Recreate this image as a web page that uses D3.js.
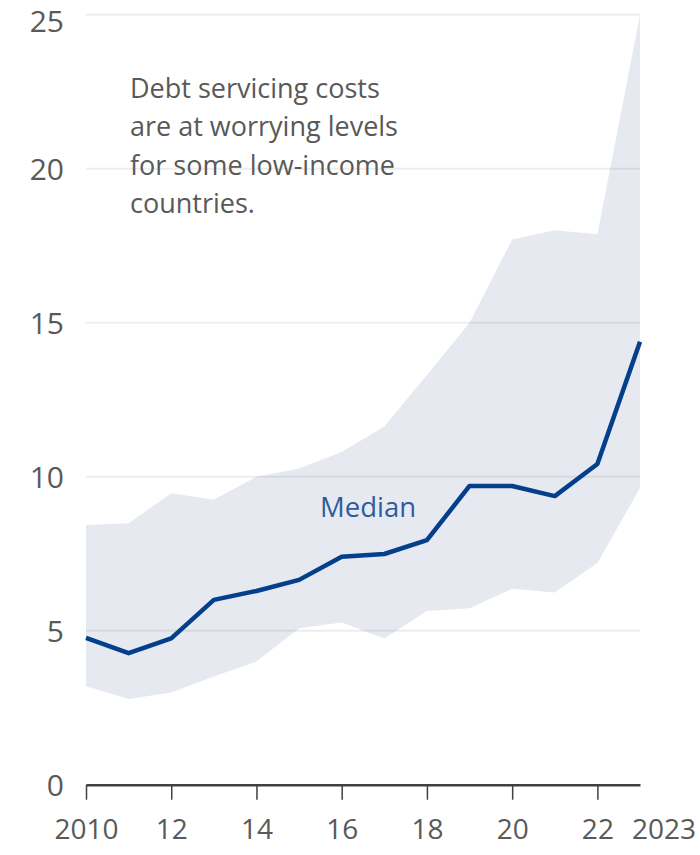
<!DOCTYPE html>
<html>
<head>
<meta charset="utf-8">
<script src="https://cdn.jsdelivr.net/npm/d3@7"></script>
<style>
  html, body { margin: 0; padding: 0; background: #ffffff; }
  svg { display: block; }
  text { font-family: "Open Sans", "Noto Sans", sans-serif; }
</style>
</head>
<body>
<div id="chart"></div>
<script>
// Debt service indicators for low-income countries, 2010–2023
const years  = [2010, 2011, 2012, 2013, 2014, 2015, 2016, 2017, 2018, 2019, 2020, 2021, 2022, 2023];
const median = [4.77, 4.27, 4.75, 6.0, 6.29, 6.65, 7.4, 7.49, 7.94, 9.7, 9.7, 9.37, 10.41, 14.38];
const upper  = [8.43, 8.49, 9.46, 9.25, 10.0, 10.27, 10.8, 11.63, 13.3, 15.0, 17.7, 18.0, 17.87, 25.0];
const lower  = [3.2, 2.78, 2.99, 3.51, 4.0, 5.08, 5.27, 4.75, 5.64, 5.73, 6.36, 6.24, 7.2, 9.63];

const yTicks = [0, 5, 10, 15, 20, 25];
const xTicks = [2010, 2012, 2014, 2016, 2018, 2020, 2022];
const xTickLabels = ["2010", "12", "14", "16", "18", "20", "22"];
const lastYearLabel = "2023";

const note = ["Debt servicing costs", "are at worrying levels", "for some low-income", "countries."];
const seriesLabel = "Median";

const W = 700, H = 855;
const svg = d3.select("#chart").append("svg").attr("width", W).attr("height", H);

const x = d3.scaleLinear().domain([2010, 2023]).range([86, 640]);
const y = d3.scaleLinear().domain([0, 25]).range([784.7, 14.7]);

const rows = years.map((yr, i) => ({ yr, med: median[i], hi: upper[i], lo: lower[i] }));

// Range band between lower and upper bounds
svg.append("path")
  .datum(rows)
  .attr("fill", "#e7e9f1")
  .attr("d", d3.area().x(d => x(d.yr)).y0(d => y(d.lo)).y1(d => y(d.hi)));

// Horizontal gridlines (above the band, faint)
svg.append("g")
  .selectAll("line")
  .data(yTicks.filter(t => t > 0))
  .join("line")
  .attr("x1", x(2010)).attr("x2", x(2023))
  .attr("y1", d => y(d)).attr("y2", d => y(d))
  .attr("stroke", "rgba(0,0,0,0.07)")
  .attr("stroke-width", 2);

// Y-axis labels
svg.append("g")
  .selectAll("text")
  .data(yTicks)
  .join("text")
  .attr("x", 64)
  .attr("y", d => Math.max(y(d), 21))
  .attr("dy", "0.36em")
  .attr("text-anchor", "end")
  .attr("font-size", 30)
  .attr("fill", "#595959")
  .text(d => d);

// X axis: baseline and ticks
const xAxis = d3.axisBottom(x)
  .tickValues(xTicks)
  .tickSize(15)
  .tickSizeOuter(0)
  .tickFormat((d, i) => xTickLabels[i]);

const gx = svg.append("g")
  .attr("transform", `translate(0,${y(0)})`)
  .call(xAxis);
gx.select(".domain").attr("stroke", "#404040").attr("stroke-width", 2.5);
gx.selectAll(".tick line").attr("stroke", "#404040").attr("stroke-width", 1.5);
gx.selectAll(".tick text")
  .attr("y", 44)
  .attr("dy", "0.36em")
  .attr("font-size", 28)
  .attr("font-family", "Open Sans, Noto Sans, sans-serif")
  .attr("fill", "#595959");

svg.append("text")
  .attr("x", x(2023) - 8)
  .attr("y", y(0) + 44)
  .attr("dy", "0.36em")
  .attr("font-size", 28)
  .attr("fill", "#595959")
  .text(lastYearLabel);

// Median line
svg.append("path")
  .datum(rows)
  .attr("fill", "none")
  .attr("stroke", "#033f8a")
  .attr("stroke-width", 4.5)
  .attr("stroke-linejoin", "round")
  .attr("d", d3.line().x(d => x(d.yr)).y(d => y(d.med)));

svg.append("text")
  .attr("x", 320)
  .attr("y", 517)
  .attr("font-size", 27.5)
  .attr("fill", "#2f5c9c")
  .text(seriesLabel);

// Annotation
svg.append("g")
  .selectAll("text")
  .data(note)
  .join("text")
  .attr("x", 130)
  .attr("y", (d, i) => 98 + i * 38.3)
  .attr("font-size", 27)
  .attr("fill", "#595959")
  .text(d => d);
</script>
</body>
</html>
